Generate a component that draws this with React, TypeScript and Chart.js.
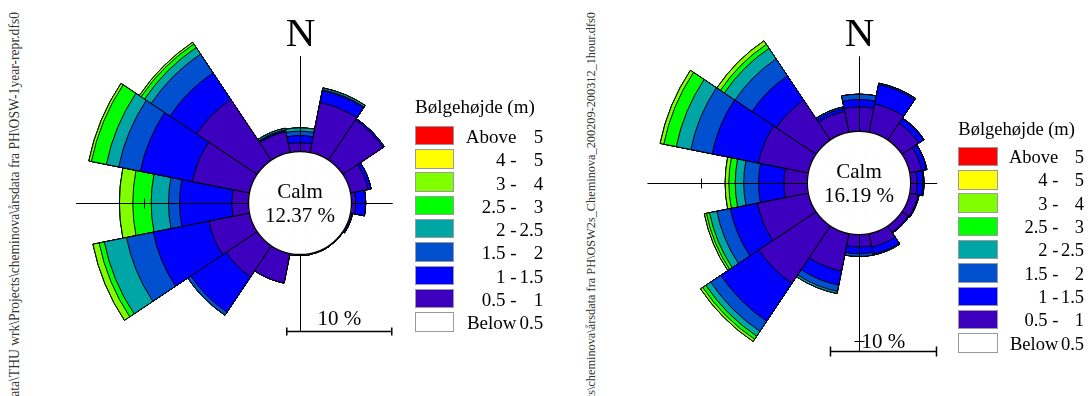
import React, { useEffect, useRef } from "react";
import { Chart, registerables } from "chart.js";

Chart.register(...registerables);

// ---------- data ----------
const directions = ["N", "NNE", "NE", "ENE", "E", "ESE", "SE", "SSE", "S", "SSW", "SW", "WSW", "W", "WNW", "NW", "NNW"];
const heightEdges = [0.5, 1, 1.5, 2, 2.5, 3, 4, 5];
const classColors = ["#3C00BE", "#0000FF", "#0050D0", "#00A5A5", "#00FF00", "#80FF00", "#FFFF00", "#FF0000"];
const belowColor = "#FFFFFF";
const legendTitle = "Bølgehøjde (m)";

// left rose, frequency (%) per direction and wave-height class
const leftCalm = 12.37;
const left05to1 = [0.83, 4.85, 4.6, 1.7, 0.4, 0.15, 0.05, 0.08, 0.1, 2.87, 3.55, 3.95, 1.59, 5.55, 6.95, 2.0];
const left1to15 = [0.69, 1.15, 0.15, 0.3, 0.95, 0.05, 0, 0, 0, 0, 4.05, 5.4, 4.98, 5.05, 3.05, 0.1];
const left15to2 = [0.42, 0.1, 0, 0, 0, 0, 0, 0, 0, 0, 0.35, 2.6, 1.05, 2.1, 2.15, 0.1];
const left2to25 = [0.31, 0.17, 0, 0, 0, 0, 0, 0, 0, 0, 0, 2.15, 1.65, 1.2, 0.75, 0.15];
const left25to3 = [0, 0, 0, 0, 0, 0, 0, 0, 0, 0, 0, 0.5, 1.75, 1.45, 0.4, 0];
const left3to4 = [0, 0, 0, 0, 0, 0, 0, 0, 0, 0, 0, 0.6, 1.27, 0.25, 0.2, 0];
const left4to5 = [0, 0, 0, 0, 0, 0, 0, 0, 0, 0, 0, 0, 0, 0, 0, 0];
const leftAbove5 = [0, 0, 0, 0, 0, 0, 0, 0, 0, 0, 0, 0, 0, 0, 0, 0];

// right rose
const rightCalm = 16.19;
const right05to1 = [2.3, 2.7, 1.9, 1.15, 0.6, 0.8, 0.7, 1.25, 1.15, 3.6, 6.5, 4.9, 2.2, 4.8, 4.5, 2.0];
const right1to15 = [0.7, 1.9, 0.55, 0.45, 0.55, 0.1, 0.1, 0.7, 0.65, 1.35, 4.3, 2.6, 2.4, 4.45, 2.77, 0.3];
const right15to2 = [0.5, 0.12, 0.05, 0.05, 0.1, 0, 0, 0.1, 0.25, 0.6, 1.15, 1.3, 1.4, 2.05, 1.93, 0.15];
const right2to25 = [0, 0, 0, 0, 0, 0, 0, 0, 0, 0.2, 0.55, 0.7, 0.8, 1.4, 1.2, 0];
const right25to3 = [0, 0, 0, 0, 0, 0, 0, 0, 0, 0, 0.35, 0.3, 0.6, 1.2, 0.45, 0];
const right3to4 = [0, 0, 0, 0, 0, 0, 0, 0, 0, 0, 0.25, 0.2, 0.35, 0.35, 0.4, 0];
const right4to5 = [0, 0, 0, 0, 0, 0, 0, 0, 0, 0, 0, 0, 0, 0, 0, 0];
const rightAbove5 = [0, 0, 0, 0, 0, 0, 0, 0, 0, 0, 0, 0, 0, 0, 0, 0];

const leftPath = "C:\\Data\\THU wrk\\Projects\\cheminova\\årsdata fra PH\\OSW-1year-repr.dfs0";
const rightPath = "C:\\Data\\THU wrk\\Projects\\cheminova\\årsdata fra PH\\OSW2s_Cheminova_200209-200312_1hour.dfs0";
const scaleBarPct = 10;

// ---------- layout ----------
const SERIF = '"Liberation Serif", "Times New Roman", serif';
const HALF = 240;

const leftLayout = { cx: 300, cy: 203, r0: 51.5, pxPerPct: 10.5, west: 16.41, east: 3.93, north: 9.08, barLevel: 7.3, barStart: -1.26, barLabelGap: 6.5, barTick: 4 };
const rightLayout = { cx: 859, cy: 183, r0: 51.7, pxPerPct: 10.6, west: 15.08, east: 2.5, north: 7.08, barLevel: 10.99, barStart: -2.69, barLabelGap: 3.7, barTick: 5 };

const leftLegend = { left: 415, titleTop: 95.9, rowTop: 125.7, pitch: 23.3, boxW: 39, boxH: 19.5, col1Right: 516.5, col2Right: 543.3, font: 19, textDy: 0.2 };
const rightLegend = { left: 958.3, titleTop: 117.8, rowTop: 146.7, pitch: 23.3, boxW: 39.4, boxH: 19.5, col1Right: 1058.3, col2Right: 1084, font: 18.5, textDy: -0.6 };

function cumulative(classes: number[][]): number[][] {
  const out: number[][] = [];
  let run = directions.map(() => 0);
  classes.forEach((c) => {
    run = run.map((v, i) => v + c[i]);
    out.push(run.slice());
  });
  return out;
}

function makeDeco(layout: any, calm: number) {
  return {
    id: "roseDeco",
    afterDatasetsDraw(chart: any) {
      const s = chart.scales.r;
      const ctx = chart.ctx as CanvasRenderingContext2D;
      const xc = s.xCenter;
      const yc = s.yCenter;
      const R = (v: number) => s.getDistanceFromCenterForValue(v);
      const off = (v: number) => R(v) - R(0);
      const r0 = R(0);
      const lx = Math.round(xc) + 0.5;
      const ly = Math.round(yc) + 0.5;
      ctx.save();
      ctx.strokeStyle = "#000";
      // calm circle outline
      ctx.lineWidth = 1.4;
      ctx.beginPath();
      ctx.arc(xc, yc, r0, 0, Math.PI * 2);
      ctx.stroke();
      // axes
      ctx.lineWidth = 1;
      ctx.beginPath();
      ctx.moveTo(xc - r0, ly);
      ctx.lineTo(xc - R(layout.west), ly);
      ctx.moveTo(xc + r0, ly);
      ctx.lineTo(xc + R(layout.east), ly);
      ctx.moveTo(lx, yc - r0);
      ctx.lineTo(lx, yc - R(layout.north));
      ctx.moveTo(lx, yc + r0);
      ctx.lineTo(lx, yc + R(layout.barLevel));
      // 10 % ticks on the axes
      if (layout.west >= scaleBarPct) {
        const tx = Math.round(xc - R(scaleBarPct)) + 0.5;
        ctx.moveTo(tx, ly - 5);
        ctx.lineTo(tx, ly + 5);
      }
      if (layout.barLevel > scaleBarPct) {
        const ty = Math.round(yc + R(scaleBarPct)) + 0.5;
        ctx.moveTo(lx - 5, ty);
        ctx.lineTo(lx + 5, ty);
      }
      ctx.stroke();
      // scale bar
      const by = Math.round(yc + R(layout.barLevel)) + 0.5;
      const bx0 = xc + off(layout.barStart);
      const bx1 = xc + off(layout.barStart + scaleBarPct);
      ctx.lineWidth = 1.5;
      ctx.beginPath();
      ctx.moveTo(bx0, by);
      ctx.lineTo(bx1, by);
      ctx.moveTo(bx0, by - layout.barTick);
      ctx.lineTo(bx0, by + layout.barTick);
      ctx.moveTo(bx1, by - layout.barTick);
      ctx.lineTo(bx1, by + layout.barTick);
      ctx.stroke();
      // texts
      ctx.fillStyle = "#000";
      ctx.textAlign = "center";
      ctx.textBaseline = "alphabetic";
      ctx.font = `21px ${SERIF}`;
      ctx.fillText(`${scaleBarPct} %`, (bx0 + bx1) / 2, by - layout.barLabelGap);
      ctx.fillText("Calm", xc, yc - 5);
      ctx.fillText(`${calm.toFixed(2)} %`, xc, yc + 19);
      ctx.font = `41px ${SERIF}`;
      ctx.fillText("N", lx, yc - R(layout.north) - 10);
      ctx.restore();
    },
  };
}

function Rose({ classes, calm, layout }: { classes: number[][]; calm: number; layout: any }) {
  const ref = useRef<HTMLCanvasElement | null>(null);
  useEffect(() => {
    if (!ref.current) return;
    const cum = cumulative(classes);
    const min = -layout.r0 / layout.pxPerPct;
    const max = min + HALF / layout.pxPerPct;
    const datasets: any[] = [
      {
        label: "Calm",
        data: directions.map(() => 0),
        backgroundColor: "#FFFFFF",
        borderColor: "#FFFFFF",
        borderWidth: 1,
      },
      ...cum.map((d, i) => ({
        label: i,
        data: d,
        backgroundColor: classColors[i],
        borderColor: "#000000",
        borderWidth: 1,
      })),
    ];
    const chart = new Chart(ref.current, {
      type: "polarArea",
      data: { labels: directions, datasets },
      options: {
        responsive: false,
        maintainAspectRatio: false,
        animation: false,
        events: [],
        layout: { padding: 0 },
        plugins: { legend: { display: false }, tooltip: { enabled: false } },
        scales: {
          r: {
            min,
            max,
            startAngle: -11.25,
            ticks: { display: false },
            grid: { display: false },
            angleLines: { display: false },
            pointLabels: { display: false },
          },
        },
      } as any,
      plugins: [makeDeco(layout, calm)],
    });
    return () => chart.destroy();
  }, []);
  return (
    <canvas
      ref={ref}
      width={HALF * 2}
      height={HALF * 2}
      style={{ position: "absolute", left: layout.cx - HALF, top: layout.cy - HALF, width: HALF * 2, height: HALF * 2 }}
    />
  );
}

function Legend({ cfg }: { cfg: any }) {
  const rows: { color: string; a: string; b: string }[] = [];
  rows.push({ color: classColors[7], a: "Above", b: String(heightEdges[7]) });
  for (let i = 6; i >= 0; i--) {
    rows.push({ color: classColors[i], a: `${heightEdges[i]} -`, b: String(heightEdges[i + 1]) });
  }
  rows.push({ color: belowColor, a: "Below", b: String(heightEdges[0]) });
  const txt: React.CSSProperties = {
    position: "absolute",
    fontFamily: SERIF,
    fontSize: cfg.font,
    lineHeight: "22px",
    height: 22,
    whiteSpace: "nowrap",
    color: "#000",
    textAlign: "right",
  };
  return (
    <>
      <div style={{ ...txt, left: cfg.left, top: cfg.titleTop, textAlign: "left" }}>{legendTitle}</div>
      {rows.map((r, i) => {
        const top = cfg.rowTop + i * cfg.pitch;
        return (
          <React.Fragment key={i}>
            <div
              style={{
                position: "absolute",
                left: cfg.left,
                top,
                width: cfg.boxW,
                height: cfg.boxH,
                boxSizing: "border-box",
                border: "1px solid #9a9a9a",
                background: r.color,
              }}
            />
            <div style={{ ...txt, left: cfg.col1Right - 90, width: 90, top: top + cfg.textDy }}>{r.a}</div>
            <div style={{ ...txt, left: cfg.col2Right - 40, width: 40, top: top + cfg.textDy }}>{r.b}</div>
          </React.Fragment>
        );
      })}
    </>
  );
}

function SideText({ text, px, py, size }: { text: string; px: number; py: number; size: number }) {
  const W = 700;
  return (
    <div
      style={{
        position: "absolute",
        left: px - W,
        top: py,
        width: W,
        textAlign: "right",
        whiteSpace: "nowrap",
        fontFamily: SERIF,
        fontSize: size,
        lineHeight: `${size}px`,
        color: "#333",
        transformOrigin: "right top",
        transform: "rotate(-90deg)",
      }}
    >
      {text}
    </div>
  );
}

export default function App() {
  return (
    <div style={{ position: "absolute", left: 0, top: 0, width: 1092, height: 396, overflow: "hidden", background: "#fff" }}>
      <Rose
        classes={[left05to1, left1to15, left15to2, left2to25, left25to3, left3to4, left4to5, leftAbove5]}
        calm={leftCalm}
        layout={leftLayout}
      />
      <Rose
        classes={[right05to1, right1to15, right15to2, right2to25, right25to3, right3to4, right4to5, rightAbove5]}
        calm={rightCalm}
        layout={rightLayout}
      />
      <Legend cfg={leftLegend} />
      <Legend cfg={rightLegend} />
      <SideText text={leftPath} px={8.3} py={12} size={13.6} />
      <SideText text={rightPath} px={585.2} py={12} size={12.3} />
    </div>
  );
}
